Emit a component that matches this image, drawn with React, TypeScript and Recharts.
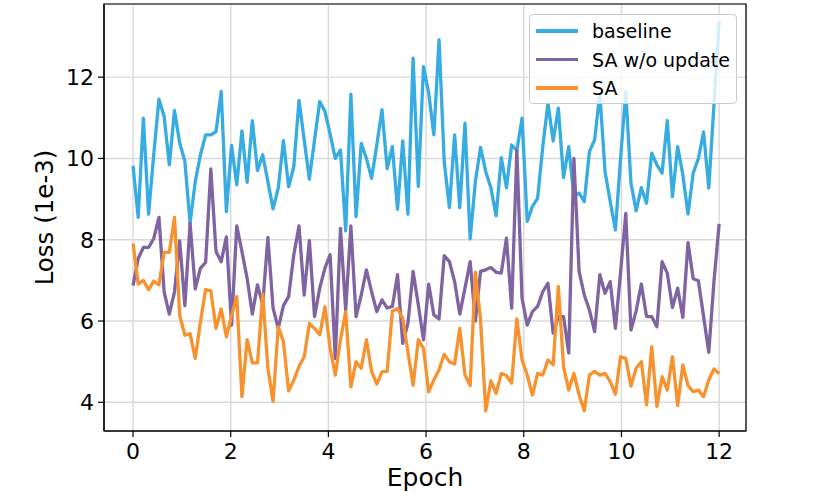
import { LineChart, Line, XAxis, YAxis, CartesianGrid, ReferenceArea, Label } from 'recharts'

// loss values (1e-3), one reading every 12/113 epoch
const baseline = [
  9.82, 8.55, 10.99, 8.63, 10.1, 11.46, 11.03, 9.84, 11.18, 10.38,
  9.93, 8.41, 9.43, 10.09, 10.58, 10.58, 10.66, 11.65, 8.69, 10.32,
  9.35, 10.68, 9.41, 10.93, 9.7, 10.09, 9.43, 8.76, 9.27, 10.44,
  9.3, 9.8, 11.43, 10.46, 9.49, 10.46, 11.4, 11.16, 10.6, 10.0,
  10.21, 8.22, 11.58, 8.57, 10.37, 10.0, 9.51, 10.33, 11.2, 9.75,
  10.29, 8.75, 10.43, 8.63, 12.47, 9.31, 12.26, 11.61, 10.58, 12.92,
  9.92, 8.79, 10.58, 8.79, 10.87, 8.02, 9.43, 10.27, 9.68, 9.27,
  8.59, 10.02, 9.28, 10.33, 10.2, 10.99, 8.45, 8.82, 9.02, 10.29,
  11.36, 10.43, 11.24, 9.53, 10.29, 9.06, 9.15, 8.94, 10.17, 10.46,
  11.6, 9.68, 8.94, 8.24, 10.0, 11.65, 9.39, 8.71, 9.28, 8.9,
  10.13, 9.84, 9.64, 10.93, 9.06, 10.29, 9.6, 8.63, 9.64, 10.0,
  10.65, 9.27, 11.32, 13.37,
]

const saNoUpdate = [
  6.87, 7.54, 7.81, 7.81, 8.03, 8.55, 6.72, 6.17, 6.72, 7.97,
  6.38, 8.41, 6.79, 7.3, 7.44, 9.74, 7.71, 7.46, 8.07, 5.9,
  8.34, 7.71, 7.05, 6.17, 6.89, 6.4, 8.06, 6.32, 5.82, 6.38,
  6.6, 7.63, 8.34, 6.64, 7.98, 6.11, 6.81, 7.3, 7.63, 5.08,
  8.28, 6.27, 8.34, 6.11, 6.64, 7.26, 6.72, 6.23, 6.52, 6.32,
  6.36, 7.14, 5.45, 5.94, 7.22, 6.4, 5.54, 6.91, 6.15, 6.05,
  7.61, 7.46, 6.97, 6.17, 6.81, 7.46, 6.0, 7.22, 7.26, 7.32,
  7.2, 7.18, 8.04, 6.32, 10.2, 6.56, 5.9, 6.23, 6.36, 6.72,
  6.93, 5.7, 6.11, 6.11, 5.21, 10.0, 7.22, 6.64, 6.27, 5.74,
  7.14, 6.68, 6.97, 5.82, 7.2, 8.65, 5.78, 6.25, 6.91, 6.11,
  6.11, 5.86, 7.46, 7.18, 6.33, 6.81, 6.09, 7.93, 7.04, 6.99,
  6.11, 5.23, 6.97, 8.39,
]

const sa = [
  7.91, 6.91, 7.0, 6.77, 6.98, 6.89, 7.69, 7.69, 8.55, 6.14,
  5.65, 5.69, 5.08, 5.98, 6.77, 6.74, 5.82, 6.3, 5.61, 6.14,
  6.6, 4.14, 5.54, 4.97, 4.97, 6.66, 4.84, 4.02, 5.86, 5.49,
  4.28, 4.55, 4.88, 5.12, 5.94, 5.82, 5.66, 6.35, 5.33, 4.67,
  5.54, 6.23, 4.38, 5.0, 4.84, 5.54, 4.76, 4.45, 4.75, 4.76,
  6.24, 6.31, 6.06, 5.24, 4.42, 5.54, 5.33, 4.26, 4.55, 4.8,
  5.18, 5.0, 4.94, 5.82, 4.67, 4.41, 7.2, 6.03, 3.79, 4.53,
  4.22, 4.71, 4.66, 4.47, 6.05, 5.04, 4.67, 4.18, 4.71, 4.67,
  5.04, 4.92, 6.85, 4.88, 4.3, 4.71, 4.18, 3.79, 4.67, 4.76,
  4.67, 4.71, 4.51, 4.2, 5.12, 5.08, 4.4, 4.84, 5.0, 3.94,
  5.37, 3.9, 4.63, 4.3, 5.12, 3.92, 4.92, 4.41, 4.26, 4.3,
  4.14, 4.55, 4.82, 4.71,
]

const epochTicks = [0, 2, 4, 6, 8, 10, 12]
const lossTicks = [4, 6, 8, 10, 12]
const lastEpoch = 12

const series = [
  { key: 'baseline', name: 'baseline', color: '#36ace2' },
  { key: 'saNoUpdate', name: 'SA w/o update', color: '#8064a2' },
  { key: 'sa', name: 'SA', color: '#f7922f' },
]

const chartData = baseline.map((v, i) => ({
  epoch: (i * lastEpoch) / (baseline.length - 1),
  baseline: v,
  saNoUpdate: saNoUpdate[i],
  sa: sa[i],
}))

const font = '"DejaVu Sans", sans-serif'
const xDomain: [number, number] = [-0.594, 12.55]
const yDomain: [number, number] = [3.294, 13.8]

export default function App() {
  return (
    <div style={{ position: 'absolute', left: 0, top: 0, width: 830, height: 492, fontFamily: font }}>
      <LineChart width={830} height={492} data={chartData} margin={{ top: 4, right: 84, bottom: 31, left: 44 }}>
        <CartesianGrid stroke="#d9d9d9" strokeWidth={1.4} />
        <XAxis
          dataKey="epoch"
          type="number"
          domain={xDomain}
          ticks={epochTicks}
          allowDataOverflow
          height={30}
          tickSize={6}
          tickMargin={6}
          tick={{ fontSize: 22, fill: '#000', fontFamily: font }}
          axisLine={{ stroke: '#000', strokeWidth: 1.2 }}
          tickLine={{ stroke: '#000', strokeWidth: 1.2 }}
        >
          <Label
            content={({ viewBox }: any) => (
              <text x={viewBox.x + viewBox.width / 2} y={486} textAnchor="middle" fontSize={25} fontFamily={font} fill="#000">
                Epoch
              </text>
            )}
          />
        </XAxis>
        <YAxis
          type="number"
          domain={yDomain}
          ticks={lossTicks}
          allowDataOverflow
          width={60}
          tickSize={6}
          tickMargin={4}
          tick={{ fontSize: 22, fill: '#000', fontFamily: font }}
          axisLine={{ stroke: '#000', strokeWidth: 1.2 }}
          tickLine={{ stroke: '#000', strokeWidth: 1.2 }}
        >
          <Label
            content={({ viewBox }: any) => {
              const cx = 53
              const cy = viewBox.y + viewBox.height / 2
              return (
                <text x={cx} y={cy} transform={`rotate(-90, ${cx}, ${cy})`} textAnchor="middle" fontSize={24.5} fontFamily={font} fill="#000">
                  Loss (1e-3)
                </text>
              )
            }}
          />
        </YAxis>
        {series.map((s) => (
          <Line
            key={s.key}
            type="linear"
            dataKey={s.key}
            name={s.name}
            stroke={s.color}
            strokeWidth={3.3}
            strokeLinejoin="round"
            dot={false}
            activeDot={false}
            isAnimationActive={false}
          />
        ))}
        <ReferenceArea x1={xDomain[0]} x2={xDomain[1]} y1={yDomain[0]} y2={yDomain[1]} fill="none" stroke="#000" strokeWidth={1.2} />
      </LineChart>
      <div
        style={{
          position: 'absolute',
          left: 529,
          top: 14,
          width: 208,
          height: 90,
          boxSizing: 'border-box',
          background: 'rgba(255,255,255,0.8)',
          border: '1px solid #cccccc',
          borderRadius: 4,
        }}
      >
        {series.map((s, i) => (
          <div key={s.key} style={{ position: 'absolute', left: 6, top: 4 + i * 28.5, height: 24, display: 'flex', alignItems: 'center' }}>
            <div style={{ width: 42, height: 3.3, background: s.color }} />
            <span style={{ marginLeft: 14, fontSize: 19, color: '#000', whiteSpace: 'nowrap', lineHeight: '24px' }}>{s.name}</span>
          </div>
        ))}
      </div>
    </div>
  )
}
